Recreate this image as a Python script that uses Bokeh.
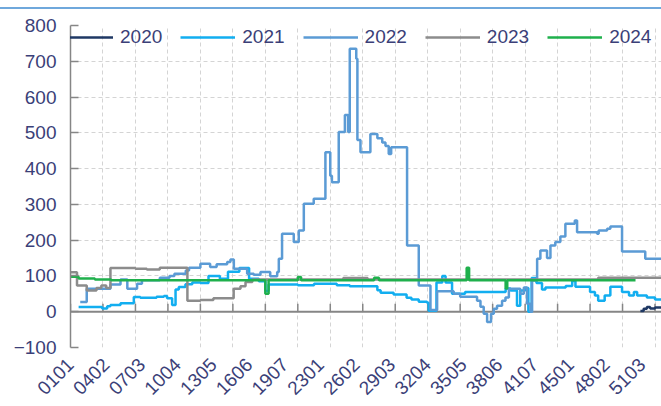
from math import pi
from bokeh.plotting import figure
from bokeh.layouts import column
from bokeh.models import FixedTicker, Range1d, Span, Div
from bokeh.embed import file_html
from bokeh.resources import INLINE

# ---- categories: daily codes "WWDD" (week, weekday) ----
weeks = list(range(1, 53))
weekdays = list(range(1, 8))
categories = [f"{w:02d}{d:02d}" for w in weeks for d in weekdays]
label_step = 22
grid_step = 20

# ---- series: (day index, value) breakpoints, drawn as steps ----
s2020 = [(351, 2), (353, 8), (355, 13), (357, 9), (360, 12), (364, 12)]

s2021 = [(5, 13), (19.5, 9), (22.6, 15), (24.6, 19), (30.8, 24), (39, 41), (43, 39),
         (53, 42), (57.5, 44), (59.5, 38), (62.6, 19), (64.7, 62), (66.7, 69),
         (70.8, 77), (75, 82), (80, 80), (85, 100), (92, 92), (97, 112), (104, 122),
         (110, 92), (116, 85), (120, 58), (122, 76), (140, 74), (150, 78), (160, 78),
         (164, 74), (172, 71), (189, 60), (191, 53), (199, 48), (207, 39), (210, 34),
         (214.5, 28), (219.6, 25), (220.6, 3), (225.4, 82), (229, 100), (231, 82),
         (235, 50), (243, 55), (251, 55), (268, 65), (271, 59), (275, 17), (277, 59),
         (280, 66), (282, 0), (284, 94), (287, 80), (290.4, 62), (292.5, 68),
         (305, 72), (309, 86), (311, 70), (320, 55), (323, 45), (325, 31), (329, 45),
         (332.5, 70), (339.7, 55), (344, 45), (347, 55), (349, 45), (355, 40),
         (360, 34), (364, 32)]

s2022 = [(6, 27), (10, 64), (24.6, 76), (30.8, 90), (35, 64), (41, 78), (44, 88),
         (55, 95), (61, 100), (64, 106), (71, 115), (73, 123), (80, 134), (86, 125),
         (90, 133), (96.5, 139), (98.5, 146), (100.6, 120), (108.8, 106), (112.9, 103),
         (117, 111), (123, 99), (127.3, 111), (128.3, 148), (130.3, 218), (137.5, 195),
         (140.6, 227), (143.7, 302), (149.8, 316), (157, 446), (160, 380), (161, 362),
         (165.2, 502), (169, 550), (171, 502), (172, 735), (174.6, 735), (176, 707),
         (176.7, 480), (178.6, 446), (184.7, 497), (187, 497), (189, 485), (192, 473),
         (194, 463), (196, 441), (197.5, 460), (207.3, 185), (214.5, 73), (221.7, 5),
         (225.8, 57), (236, 50), (240, 42), (250.4, 31), (252.5, 14), (254.5, -6),
         (256.6, -29), (259, -6), (260.7, 8), (262.7, 17), (265.8, 31), (267.9, 40),
         (270, 64), (277, 50), (279.2, 68), (281.2, 22), (283.3, 0), (284.3, 87),
         (287.4, 148), (289.4, 171), (293.5, 150), (295.6, 185), (298.6, 195),
         (301.7, 210), (304.8, 246), (310.6, 255), (312, 222), (324.3, 218),
         (325.3, 227), (330.5, 232), (332.5, 238), (339.7, 168), (354, 148), (364, 148)]

s2023 = [(0, 110), (4, 73), (10, 59), (16, 66), (19, 73), (22, 66), (24.6, 122),
         (40, 120), (47, 118), (55, 123), (72, 31), (80, 33), (88, 38), (100.5, 64),
         (104.7, 71), (107.8, 83), (112, 90), (168, 94), (183, 90), (325, 95), (364, 95)]

s2024 = [(0, 98), (5, 93), (15, 90), (25, 88), (120, 50), (122, 88), (140, 97),
         (142, 88), (187, 95), (190, 88), (244, 123), (245.5, 88), (268, 65),
         (269, 88), (348, 88)]

series_names = ["2020", "2021", "2022", "2023", "2024"]
series_data = [s2020, s2021, s2022, s2023, s2024]
series_colors = ["#1f3864", "#12aef0", "#5b9bd5", "#8c8c8c", "#1fb04c"]

y_ticks = list(range(-100, 801, 100))

FONT = "Liberation Sans"
TXT = "#3b3f78"
AX = "#868686"

p = figure(width=661, height=397, output_backend="svg", toolbar_location=None,
           x_range=Range1d(0, len(categories)), y_range=Range1d(-100, 800),
           min_border_left=70, min_border_right=0, min_border_top=16,
           min_border_bottom=59)
p.outline_line_color = None

# grids
grid_days = list(range(0, len(categories), grid_step))
p.xgrid.ticker = FixedTicker(ticks=grid_days)
for g in (p.xgrid, p.ygrid):
    g.grid_line_color = "#d4d4d4"
    g.grid_line_dash = "4 3"
    g.grid_line_width = 1

# zero line with upward tick marks
zero = Span(location=0, dimension="width", line_color=AX, line_width=2, level="underlay")
p.add_layout(zero)
p.segment(x0=grid_days, y0=[0] * len(grid_days), x1=grid_days, y1=[22] * len(grid_days),
          line_color=AX, line_width=1.5)

# series
for name, data, col in zip(series_names, series_data, series_colors):
    xs = [d for d, _ in data]
    ys = [v for _, v in data]
    p.step(xs, ys, mode="after", line_color=col, line_width=2.5, legend_label=name)

# y axis
p.yaxis.ticker = FixedTicker(ticks=y_ticks)
p.yaxis.axis_line_color = AX
p.yaxis.axis_line_width = 1.5
p.yaxis.major_tick_in = 8
p.yaxis.major_tick_out = 0
p.yaxis.major_tick_line_color = AX
p.yaxis.major_tick_line_width = 1.5
p.yaxis.minor_tick_line_color = None
p.yaxis.major_label_standoff = 14
p.yaxis.major_label_text_font = FONT
p.yaxis.major_label_text_font_size = "19px"
p.yaxis.major_label_text_color = TXT

# x axis
label_pos = list(range(0, len(categories), label_step))
p.xaxis.ticker = FixedTicker(ticks=label_pos)
p.xaxis.major_label_overrides = {i: categories[i] for i in label_pos}
p.xaxis.major_label_orientation = pi / 4
p.xaxis.axis_line_color = None
p.xaxis.major_tick_line_color = None
p.xaxis.minor_tick_line_color = None
p.xaxis.major_tick_in = 0
p.xaxis.major_tick_out = 0
p.xaxis.major_label_standoff = 14
p.xaxis.major_label_text_font = FONT
p.xaxis.major_label_text_font_size = "19px"
p.xaxis.major_label_text_color = TXT

# legend
leg = p.legend[0]
leg.orientation = "horizontal"
leg.location = (-12, 299)
leg.background_fill_alpha = 0
leg.border_line_color = None
leg.padding = 0
leg.margin = 0
leg.spacing = 18
leg.label_standoff = 7
leg.glyph_width = 55
leg.glyph_height = 20
leg.label_height = 20
leg.label_text_font = FONT
leg.label_text_font_size = "19px"
leg.label_text_color = TXT

# thin blue rule above the chart
rule = Div(text="", width=661, height=2, margin=(7, 0, 0, 0),
           styles={"background-color": "#6fa8dc"})

layout = column(rule, p, spacing=0)
open("out.html", "w").write(file_html(layout, INLINE))
